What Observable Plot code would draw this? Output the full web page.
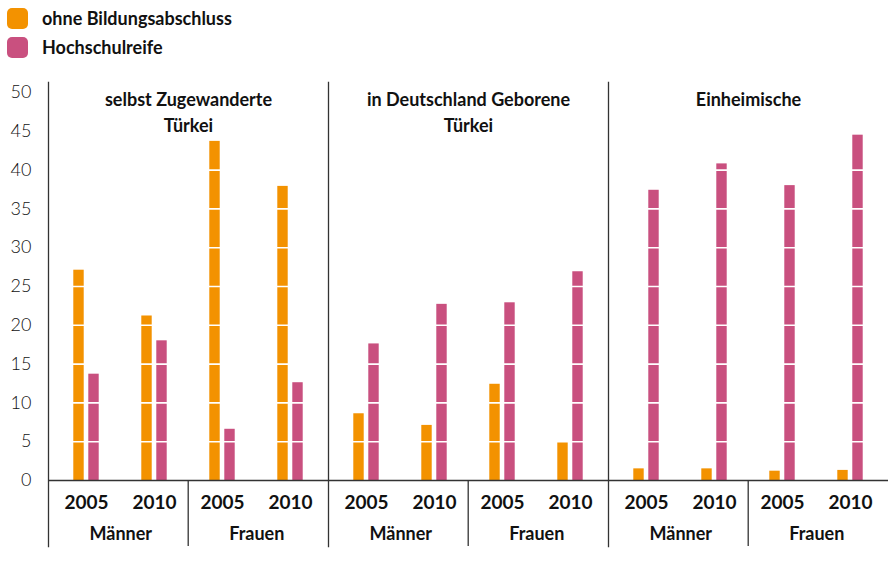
<!DOCTYPE html>
<html>
<head>
<meta charset="utf-8">
<script src="https://cdn.jsdelivr.net/npm/d3@7"></script>
<script src="https://cdn.jsdelivr.net/npm/@observablehq/plot@0.6"></script>
<style>
  body { margin: 0; background: white; font-family: Lato, "Open Sans", sans-serif; }
  #legend { height: 70px; position: relative; }
  .item { position: absolute; left: 7px; display: flex; align-items: center; font-weight: 700; font-size: 18px; color: #111; }
  .sw { width: 21px; height: 21px; border-radius: 5px; margin-right: 14px; }
</style>
</head>
<body>
<div id="legend"></div>
<div id="chart"></div>
<script>
const panels = ["selbst Zugewanderte\nTürkei", "in Deutschland Geborene\nTürkei", "Einheimische"];
const sexes = ["Männer", "Männer", "Frauen", "Frauen"];
const years = ["2005", "2010", "2005", "2010"];
const seriesNames = ["ohne Bildungsabschluss", "Hochschulreife"];
const ohneBildungsabschluss = [27.1, 21.2, 43.7, 37.9, 8.6, 7.1, 12.4, 4.9, 1.5, 1.5, 1.2, 1.3];
const hochschulreife = [13.7, 18.0, 6.6, 12.6, 17.6, 22.7, 22.9, 26.9, 37.4, 40.8, 38.0, 44.5];
const yTicks = [0, 5, 10, 15, 20, 25, 30, 35, 40, 45, 50];
const colors = ["#f39200", "#c9507f"];

const data = panels.flatMap((panel, i) => sexes.map((sex, j) => ({
  panel, sex, year: years[j], key: sex + " " + years[j],
  ohne: ohneBildungsabschluss[i * 4 + j], hoch: hochschulreife[i * 4 + j]
})));
const keys = sexes.map((s, j) => s + " " + years[j]);

// legend
const legend = document.getElementById("legend");
seriesNames.forEach((name, i) => {
  const d = document.createElement("div");
  d.className = "item";
  d.style.top = (i === 0 ? 7 : 36) + "px";
  d.innerHTML = `<span class="sw" style="background:${colors[i]}"></span><span>${name}</span>`;
  legend.appendChild(d);
});

const W = 889, H = 496, ML = 47, MT = 22, MB = 86;
const facetW = (W - ML) / 3;
const pOuter = 0.046;
const step = facetW / (4 + 2 * pOuter);
const barW = 11, gap = 4;
const frameH = H - MT - MB;
const font = "Lato, 'Open Sans', sans-serif";

const chart = Plot.plot({
  width: W, height: H,
  marginLeft: ML, marginRight: 0, marginTop: MT, marginBottom: MB,
  style: { fontFamily: font, background: "white", color: "#111", overflow: "visible" },
  fx: { domain: panels, padding: 0, axis: null },
  x: { domain: keys, paddingInner: 0, paddingOuter: pOuter, axis: null },
  y: { domain: [0, 50], axis: null },
  marks: [
    Plot.barY(data, { fx: "panel", x: "key", y: "ohne", fill: colors[0],
      insetLeft: step / 2 - gap / 2 - barW, insetRight: step / 2 + gap / 2 }),
    Plot.barY(data, { fx: "panel", x: "key", y: "hoch", fill: colors[1],
      insetLeft: step / 2 + gap / 2, insetRight: step / 2 - gap / 2 - barW }),
    Plot.ruleY(yTicks.filter(t => t > 0 && t < 50), { stroke: "white", strokeWidth: 1.6 }),
    Plot.ruleY([0], { stroke: "#333", strokeWidth: 1.3 }),
    Plot.frame({ anchor: "left", stroke: "#333", strokeWidth: 1.3, insetTop: -10, insetBottom: -66 }),
    Plot.ruleX(data.filter(d => d.sex === "Frauen" && d.year === "2005"), {
      fx: "panel", x: "key", dx: -step / 2, stroke: "#333", strokeWidth: 1.3,
      insetTop: frameH, insetBottom: -66 }),
    Plot.axisY({ ticks: yTicks, tickSize: 0, tickPadding: 17, fontSize: 18, fontWeight: 300 }),
    Plot.text(data, { fx: "panel", x: "key", text: "year", frameAnchor: "bottom",
      lineAnchor: "top", dy: 14.5, fontWeight: "bold", fontSize: 19 }),
    Plot.text(data.filter(d => d.year === "2005"), { fx: "panel", x: "key", text: "sex",
      dx: step / 2, frameAnchor: "bottom", lineAnchor: "top", dy: 46.5, fontWeight: "bold", fontSize: 18 }),
    Plot.text(panels, { fx: d => d, text: d => d, frameAnchor: "top", lineAnchor: "top",
      dy: -5, fontWeight: "bold", fontSize: 18, lineHeight: 1.45 })
  ]
});
document.getElementById("chart").appendChild(chart);
</script>
</body>
</html>
